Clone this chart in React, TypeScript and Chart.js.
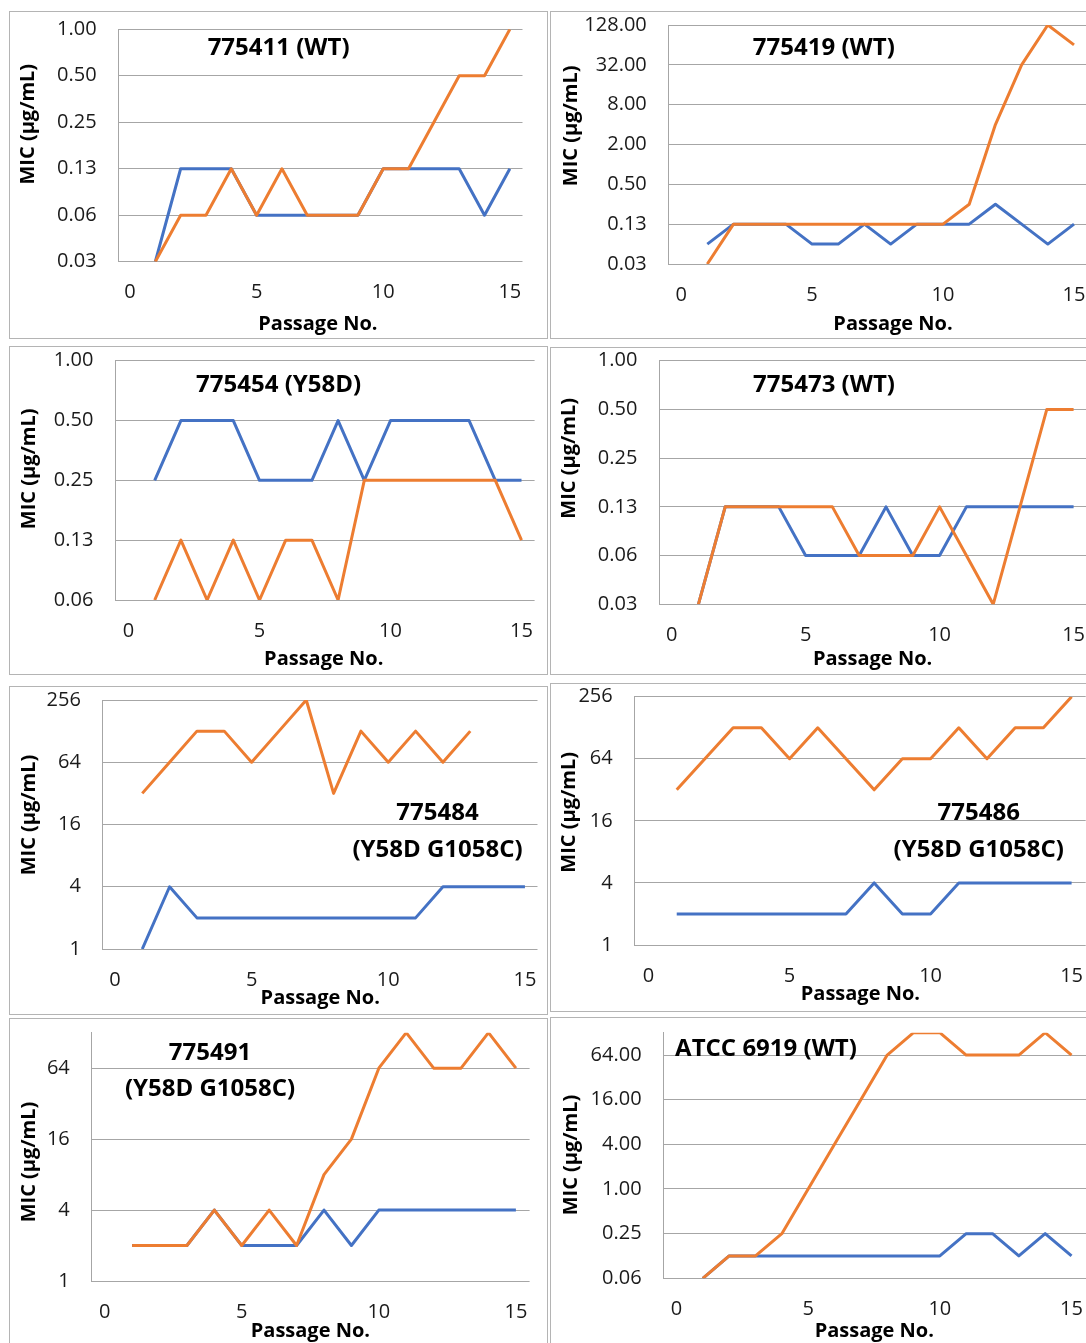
import React, { useEffect, useRef } from "react";
import { Chart, registerables } from "chart.js";

Chart.register(...registerables);
Chart.defaults.font.family = "'Open Sans', sans-serif";

// ---------- DATA ----------
const passages = [1, 2, 3, 4, 5, 6, 7, 8, 9, 10, 11, 12, 13, 14, 15];
const xTickValues = [0, 5, 10, 15];

// 775411 (WT)
const blue775411 = [0.03125, 0.125, 0.125, 0.125, 0.0625, 0.0625, 0.0625, 0.0625, 0.0625, 0.125, 0.125, 0.125, 0.125, 0.0625, 0.125];
const orange775411 = [0.03125, 0.0625, 0.0625, 0.125, 0.0625, 0.125, 0.0625, 0.0625, 0.0625, 0.125, 0.125, 0.25, 0.5, 0.5, 1];
// 775419 (WT)
const blue775419 = [0.0625, 0.125, 0.125, 0.125, 0.0625, 0.0625, 0.125, 0.0625, 0.125, 0.125, 0.125, 0.25, 0.125, 0.0625, 0.125];
const orange775419 = [0.03125, 0.125, 0.125, 0.125, 0.125, 0.125, 0.125, 0.125, 0.125, 0.125, 0.25, 4, 32, 128, 64];
// 775454 (Y58D)
const blue775454 = [0.25, 0.5, 0.5, 0.5, 0.25, 0.25, 0.25, 0.5, 0.25, 0.5, 0.5, 0.5, 0.5, 0.25, 0.25];
const orange775454 = [0.0625, 0.125, 0.0625, 0.125, 0.0625, 0.125, 0.125, 0.0625, 0.25, 0.25, 0.25, 0.25, 0.25, 0.25, 0.125];
// 775473 (WT)
const blue775473 = [0.03125, 0.125, 0.125, 0.125, 0.0625, 0.0625, 0.0625, 0.125, 0.0625, 0.0625, 0.125, 0.125, 0.125, 0.125, 0.125];
const orange775473 = [0.03125, 0.125, 0.125, 0.125, 0.125, 0.125, 0.0625, 0.0625, 0.0625, 0.125, 0.0625, 0.03125, 0.125, 0.5, 0.5];
// 775484 (Y58D G1058C)
const blue775484 = [1, 4, 2, 2, 2, 2, 2, 2, 2, 2, 2, 4, 4, 4, 4];
const orange775484 = [32, 64, 128, 128, 64, 128, 256, 32, 128, 64, 128, 64, 128, null, null];
// 775486 (Y58D G1058C)
const blue775486 = [2, 2, 2, 2, 2, 2, 2, 4, 2, 2, 4, 4, 4, 4, 4];
const orange775486 = [32, 64, 128, 128, 64, 128, 64, 32, 64, 64, 128, 64, 128, 128, 256];
// 775491 (Y58D G1058C)
const blue775491 = [2, 2, 2, 4, 2, 2, 2, 4, 2, 4, 4, 4, 4, 4, 4];
const orange775491 = [2, 2, 2, 4, 2, 4, 2, 8, 16, 64, 128, 64, 64, 128, 64];
// ATCC 6919 (WT)
const blueATCC6919 = [0.0625, 0.125, 0.125, 0.125, 0.125, 0.125, 0.125, 0.125, 0.125, 0.125, 0.25, 0.25, 0.125, 0.25, 0.125];
const orangeATCC6919 = [0.0625, 0.125, 0.125, 0.25, 1, 4, 16, 64, 128, 128, 64, 64, 64, 128, 64];

// y tick values / labels
const ticksA = [0.03125, 0.0625, 0.125, 0.25, 0.5, 1];
const labelsA = ["0.03", "0.06", "0.13", "0.25", "0.50", "1.00"];
const ticksB = [0.03125, 0.125, 0.5, 2, 8, 32, 128];
const labelsB = ["0.03", "0.13", "0.50", "2.00", "8.00", "32.00", "128.00"];
const ticksC = [0.0625, 0.125, 0.25, 0.5, 1];
const labelsC = ["0.06", "0.13", "0.25", "0.50", "1.00"];
const ticksD = [1, 4, 16, 64, 256];
const labelsD = ["1", "4", "16", "64", "256"];
const ticksE = [1, 4, 16, 64];
const labelsE = ["1", "4", "16", "64"];
const ticksF = [0.0625, 0.25, 1, 4, 16, 64];
const labelsF = ["0.06", "0.25", "1.00", "4.00", "16.00", "64.00"];

const yAxisTitle = "MIC (μg/mL)";
const xAxisTitle = "Passage No.";

const BLUE = "#4472C4";
const ORANGE = "#ED7D31";
const GRID = "#a6a6a6";
const FRAME = "#b4b4b4";

type TextLine = { text: string; x: number; y: number; align?: CanvasTextAlign };
type PanelCfg = {
  rect: [number, number, number, number];
  plot: [number, number, number, number];
  xRange: [number, number];
  yRange: [number, number];
  yTicks: number[];
  yLabels: string[];
  blue: (number | null)[];
  orange: (number | null)[];
  title: TextLine[];
  yTitle: [number, number];
  xTitle: [number, number];
};

const panels: PanelCfg[] = [
  {
    rect: [9, 11, 539, 328], plot: [118.6, 29.3, 522.5, 261.7],
    xRange: [-0.45, 15.5], yRange: [0.03125, 1], yTicks: ticksA, yLabels: labelsA,
    blue: blue775411, orange: orange775411,
    title: [{ text: "775411 (WT)", x: 278.6, y: 46.2 }],
    yTitle: [28.6, 124.2], xTitle: [317.9, 322.5],
  },
  {
    rect: [550, 11, 560, 328], plot: [668.8, 25, 1087.1, 264],
    xRange: [-0.47, 15.5], yRange: [0.03125, 128], yTicks: ticksB, yLabels: labelsB,
    blue: blue775419, orange: orange775419,
    title: [{ text: "775419 (WT)", x: 823.8, y: 46.2 }],
    yTitle: [572.2, 125.8], xTitle: [893, 322.5],
  },
  {
    rect: [9, 346, 539, 329], plot: [115.4, 360.7, 534.6, 600],
    xRange: [-0.5, 15.5], yRange: [0.0625, 1], yTicks: ticksC, yLabels: labelsC,
    blue: blue775454, orange: orange775454,
    title: [{ text: "775454 (Y58D)", x: 278.6, y: 383.3 }],
    yTitle: [29.5, 468.8], xTitle: [323.7, 658.3],
  },
  {
    rect: [550, 347, 560, 328], plot: [659.4, 360.7, 1087, 604.3],
    xRange: [-0.455, 15.5], yRange: [0.03125, 1], yTicks: ticksA, yLabels: labelsA,
    blue: blue775473, orange: orange775473,
    title: [{ text: "775473 (WT)", x: 824, y: 383.3 }],
    yTitle: [569.5, 458.3], xTitle: [872.6, 658.3],
  },
  {
    rect: [9, 686, 539, 329], plot: [102.9, 700, 537.5, 949],
    xRange: [-0.44, 15.46], yRange: [1, 256], yTicks: ticksD, yLabels: labelsD,
    blue: blue775484, orange: orange775484,
    title: [
      { text: "775484", x: 437.5, y: 811.7 },
      { text: "(Y58D G1058C)", x: 437.5, y: 848.3 },
    ],
    yTitle: [29.5, 815], xTitle: [320.2, 996.7],
  },
  {
    rect: [550, 683, 560, 329], plot: [634.7, 696.7, 1085.7, 945],
    xRange: [-0.49, 15.5], yRange: [1, 256], yTicks: ticksD, yLabels: labelsD,
    blue: blue775486, orange: orange775486,
    title: [
      { text: "775486", x: 978.7, y: 811.2 },
      { text: "(Y58D G1058C)", x: 978.7, y: 848.3 },
    ],
    yTitle: [570, 812.3], xTitle: [860.4, 993.3],
  },
  {
    rect: [9, 1018, 539, 400], plot: [91.8, 1032.7, 529.6, 1281],
    xRange: [-0.47, 15.5], yRange: [1, 128], yTicks: ticksE, yLabels: labelsE,
    blue: blue775491, orange: orange775491,
    title: [
      { text: "775491", x: 210, y: 1051.7 },
      { text: "(Y58D G1058C)", x: 210, y: 1087 },
    ],
    yTitle: [29.5, 1162], xTitle: [310.4, 1330],
  },
  {
    rect: [550, 1017, 560, 400], plot: [663.6, 1032.7, 1086, 1278.3],
    xRange: [-0.49, 15.55], yRange: [0.0625, 128], yTicks: ticksF, yLabels: labelsF,
    blue: blueATCC6919, orange: orangeATCC6919,
    title: [{ text: "ATCC 6919 (WT)", x: 675.1, y: 1047.7, align: "left" }],
    yTitle: [572.2, 1155], xTitle: [874.3, 1330],
  },
];

function Panel({ cfg }: { cfg: PanelCfg }) {
  const ref = useRef<HTMLCanvasElement>(null);
  useEffect(() => {
    const [rx, ry, rw, rh] = cfg.rect;
    const [pl, pt, pr, pb] = cfg.plot;
    const textPlugin = {
      id: "panelText",
      afterDraw(chart: any) {
        const ctx = chart.ctx as CanvasRenderingContext2D;
        ctx.save();
        ctx.fillStyle = "#000";
        ctx.textBaseline = "alphabetic";
        ctx.font = "bold 24px 'Open Sans', sans-serif";
        for (const t of cfg.title) {
          ctx.textAlign = t.align || "center";
          ctx.fillText(t.text, t.x - rx, t.y - ry + 24 * 0.357);
        }
        ctx.font = "bold 20px 'Open Sans', sans-serif";
        ctx.textAlign = "center";
        ctx.fillText(xAxisTitle, cfg.xTitle[0] - rx, cfg.xTitle[1] - ry + 20 * 0.357);
        ctx.translate(cfg.yTitle[0] - rx, cfg.yTitle[1] - ry);
        ctx.rotate(-Math.PI / 2);
        ctx.fillText(yAxisTitle, 0, 20 * 0.26);
        ctx.restore();
      },
    };
    const mk = (vals: (number | null)[]) => passages.map((p, i) => ({ x: p, y: vals[i] }));
    const chart = new Chart(ref.current as HTMLCanvasElement, {
      type: "line",
      data: {
        datasets: [
          { data: mk(cfg.orange) as any, borderColor: ORANGE, backgroundColor: ORANGE, borderWidth: 3, pointRadius: 0, tension: 0, fill: false, spanGaps: false, borderJoinStyle: "round" },
          { data: mk(cfg.blue) as any, borderColor: BLUE, backgroundColor: BLUE, borderWidth: 3, pointRadius: 0, tension: 0, fill: false, spanGaps: false, borderJoinStyle: "round" },
        ],
      },
      options: {
        responsive: false,
        animation: false,
        devicePixelRatio: 1,
        layout: { padding: { left: 0, top: pt - ry, right: rx + rw - pr, bottom: 0 } },
        plugins: { legend: { display: false }, tooltip: { enabled: false }, title: { display: false } },
        scales: {
          x: {
            type: "linear",
            min: cfg.xRange[0],
            max: cfg.xRange[1],
            grid: { display: false, drawTicks: false },
            border: { display: false },
            ticks: {
              autoSkip: false, maxRotation: 0, minRotation: 0, padding: 19,
              color: "#1a1a1a", font: { size: 20 },
              callback: (v: any) => String(v),
            },
            afterBuildTicks: (s: any) => { s.ticks = xTickValues.map((v) => ({ value: v })); },
            afterFit: (s: any) => { s.height = ry + rh - pb; s.paddingLeft = 0; s.paddingRight = 0; },
          },
          y: {
            type: "logarithmic",
            min: cfg.yRange[0],
            max: cfg.yRange[1],
            grid: { color: GRID, lineWidth: 1, drawTicks: false },
            border: { display: true, color: GRID, width: 1 },
            ticks: {
              autoSkip: false, padding: 22, color: "#1a1a1a", font: { size: 20 },
              callback: (_v: any, i: number) => cfg.yLabels[i],
            },
            afterBuildTicks: (s: any) => { s.ticks = cfg.yTicks.map((v) => ({ value: v })); },
            afterFit: (s: any) => { s.width = pl - rx; s.paddingTop = 0; s.paddingBottom = 0; },
          },
        },
      } as any,
      plugins: [textPlugin],
    });
    return () => chart.destroy();
  }, [cfg]);
  const [rx, ry, rw, rh] = cfg.rect;
  return (
    <>
      <div style={{ position: "absolute", left: rx, top: ry, width: rw, height: rh, border: `1px solid ${FRAME}`, boxSizing: "border-box" }} />
      <canvas ref={ref} width={rw} height={rh} style={{ position: "absolute", left: rx, top: ry, width: rw, height: rh }} />
    </>
  );
}

export default function App() {
  return (
    <div style={{ position: "absolute", left: 0, top: 0, width: 1086, height: 1343, overflow: "hidden", background: "#fff" }}>
      {panels.map((p, i) => (
        <Panel key={i} cfg={p} />
      ))}
    </div>
  );
}
